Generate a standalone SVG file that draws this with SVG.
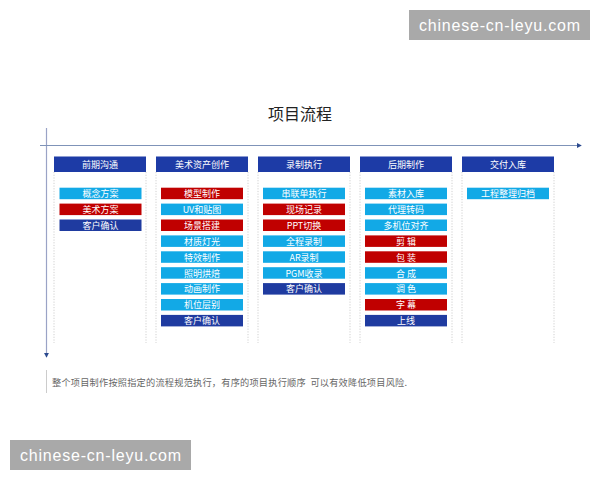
<svg xmlns="http://www.w3.org/2000/svg" width="600" height="480" viewBox="0 0 600 480">
<defs>
<style>
.hd{fill:#1d3ba6}
.lb{fill:#12a9e6}
.rd{fill:#c00000}
.db{fill:#1f3ba0}
.t{font-family:"Noto Sans CJK SC","Liberation Sans",sans-serif;font-size:9px;fill:#ffffff;text-anchor:middle;dominant-baseline:central}
.col{fill:none;stroke:#c4c4c4;stroke-width:0.8;stroke-dasharray:1.2 1.5}
.wm{fill:#a9a9a9}
.wmt{font-family:"Liberation Sans","DejaVu Sans",sans-serif;font-size:16px;fill:#ffffff;dominant-baseline:central}
</style>
<marker id="ah" viewBox="0 0 6 6" refX="5" refY="3" markerWidth="5" markerHeight="5" orient="auto" markerUnits="userSpaceOnUse">
<path d="M0,0 L6,3 L0,6 z" fill="#2b4a8f"/>
</marker>
</defs>
<rect width="600" height="480" fill="#ffffff"/>
<g id="watermark-top"><rect class="wm" x="409" y="10" width="181" height="30"/><text class="wmt" x="419" y="25" textLength="161">chinese-cn-leyu.com</text></g>
<g id="watermark-bottom"><rect class="wm" x="10" y="440" width="181" height="30"/><text class="wmt" x="20" y="455" textLength="161">chinese-cn-leyu.com</text></g>
<text id="title" x="300" y="113" font-family="Noto Sans CJK SC,Liberation Sans,sans-serif" font-size="16" font-weight="normal" fill="#222" text-anchor="middle" dominant-baseline="central">项目流程</text>
<g id="connectors">
<line x1="46.5" y1="128" x2="46.5" y2="357" stroke="#9aa3c6" stroke-width="1.2" marker-end="url(#ah)"/>
<line x1="40" y1="145.5" x2="581" y2="145.5" stroke="#7f93b8" stroke-width="1" marker-end="url(#ah)"/>
</g>
<g id="columns">
<path class="col" d="M54,172V343M146,172V343M156,172V343M248,172V343M258,172V343M350,172V343M360,172V343M452,172V343M462,172V343M554,172V343"/>
</g>
<g id="col1">
<rect class="hd" x="54" y="156.5" width="92" height="15.5"/><text class="t" x="100" y="164.3">前期沟通</text>
<rect class="lb" x="59.5" y="187.7" width="82" height="11.5"/><text class="t" x="100.5" y="193.5">概念方案</text>
<rect class="rd" x="59.5" y="203.6" width="82" height="11.5"/><text class="t" x="100.5" y="209.4">美术方案</text>
<rect class="db" x="59.5" y="219.5" width="82" height="11.5"/><text class="t" x="100.5" y="225.3">客户确认</text>
</g>
<g id="col2">
<rect class="hd" x="156" y="156.5" width="92" height="15.5"/><text class="t" x="202" y="164.3">美术资产创作</text>
<rect class="rd" x="161" y="187.7" width="82" height="11.5"/><text class="t" x="202" y="193.5">模型制作</text>
<rect class="lb" x="161" y="203.6" width="82" height="11.5"/><text class="t" x="202" y="209.4">UV和贴图</text>
<rect class="rd" x="161" y="219.5" width="82" height="11.5"/><text class="t" x="202" y="225.3">场景搭建</text>
<rect class="lb" x="161" y="235.4" width="82" height="11.5"/><text class="t" x="202" y="241.2">材质灯光</text>
<rect class="lb" x="161" y="251.3" width="82" height="11.5"/><text class="t" x="202" y="257.1">特效制作</text>
<rect class="lb" x="161" y="267.2" width="82" height="11.5"/><text class="t" x="202" y="273">照明烘焙</text>
<rect class="lb" x="161" y="283.1" width="82" height="11.5"/><text class="t" x="202" y="288.9">动画制作</text>
<rect class="lb" x="161" y="299" width="82" height="11.5"/><text class="t" x="202" y="304.8">机位层别</text>
<rect class="db" x="161" y="314.9" width="82" height="11.5"/><text class="t" x="202" y="320.7">客户确认</text>
</g>
<g id="col3">
<rect class="hd" x="258" y="156.5" width="92" height="15.5"/><text class="t" x="304" y="164.3">录制执行</text>
<rect class="lb" x="263" y="187.7" width="82" height="11.5"/><text class="t" x="304" y="193.5">串联单执行</text>
<rect class="rd" x="263" y="203.6" width="82" height="11.5"/><text class="t" x="304" y="209.4">现场记录</text>
<rect class="rd" x="263" y="219.5" width="82" height="11.5"/><text class="t" x="304" y="225.3">PPT切换</text>
<rect class="lb" x="263" y="235.4" width="82" height="11.5"/><text class="t" x="304" y="241.2">全程录制</text>
<rect class="lb" x="263" y="251.3" width="82" height="11.5"/><text class="t" x="304" y="257.1">AR录制</text>
<rect class="lb" x="263" y="267.2" width="82" height="11.5"/><text class="t" x="304" y="273">PGM收录</text>
<rect class="db" x="263" y="283.1" width="82" height="11.5"/><text class="t" x="304" y="288.9">客户确认</text>
</g>
<g id="col4">
<rect class="hd" x="360" y="156.5" width="92" height="15.5"/><text class="t" x="406" y="164.3">后期制作</text>
<rect class="lb" x="365" y="187.7" width="82" height="11.5"/><text class="t" x="406" y="193.5">素材入库</text>
<rect class="lb" x="365" y="203.6" width="82" height="11.5"/><text class="t" x="406" y="209.4">代理转码</text>
<rect class="lb" x="365" y="219.5" width="82" height="11.5"/><text class="t" x="406" y="225.3">多机位对齐</text>
<rect class="rd" x="365" y="235.4" width="82" height="11.5"/><text class="t" x="406" y="241.2" xml:space="preserve">剪 辑</text>
<rect class="rd" x="365" y="251.3" width="82" height="11.5"/><text class="t" x="406" y="257.1" xml:space="preserve">包 装</text>
<rect class="lb" x="365" y="267.2" width="82" height="11.5"/><text class="t" x="406" y="273" xml:space="preserve">合 成</text>
<rect class="lb" x="365" y="283.1" width="82" height="11.5"/><text class="t" x="406" y="288.9" xml:space="preserve">调 色</text>
<rect class="rd" x="365" y="299" width="82" height="11.5"/><text class="t" x="406" y="304.8" xml:space="preserve">字 幕</text>
<rect class="db" x="365" y="314.9" width="82" height="11.5"/><text class="t" x="406" y="320.7">上线</text>
</g>
<g id="col5">
<rect class="hd" x="462" y="156.5" width="92" height="15.5"/><text class="t" x="508" y="164.3">交付入库</text>
<rect class="lb" x="467" y="187.7" width="82" height="11.5"/><text class="t" x="508" y="193.5">工程整理归档</text>
</g>
<g id="footnote">
<line x1="46.5" y1="370" x2="46.5" y2="393" stroke="#cccccc" stroke-width="1"/>
<text x="52" y="381.5" font-family="Noto Sans CJK SC,Liberation Sans,sans-serif" font-size="9.2" fill="#666666" dominant-baseline="central" xml:space="preserve" textLength="355" lengthAdjust="spacing">整个项目制作按照指定的流程规范执行，有序的项目执行顺序  可以有效降低项目风险.</text>
</g>
</svg>
